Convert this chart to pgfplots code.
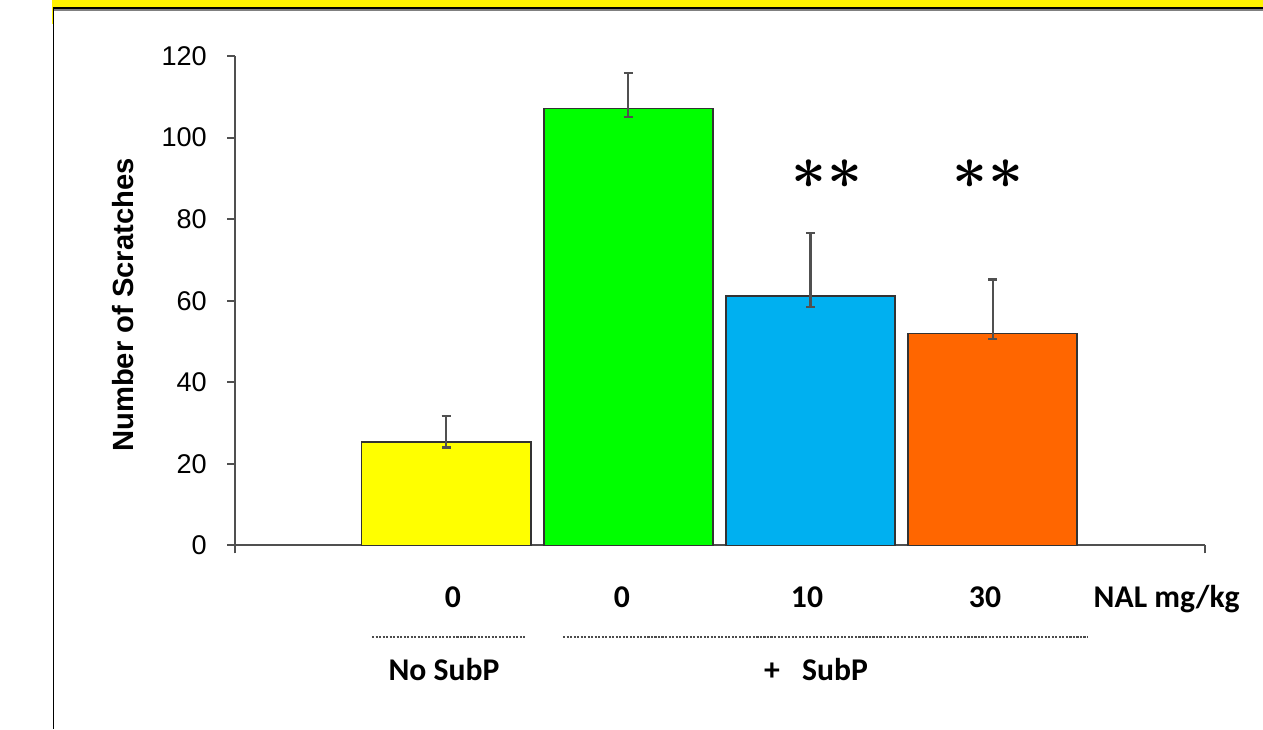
\documentclass[border=0pt]{standalone}
\usepackage{pgfplots}
\pgfplotsset{compat=1.18}
\usepackage{fontspec}
\setmainfont{Liberation Sans}
\newfontfamily\carlito{Carlito}
\definecolor{axgray}{HTML}{505050}
\definecolor{barYellow}{HTML}{FFFF00}
\definecolor{barGreen}{HTML}{00FF00}
\definecolor{barBlue}{HTML}{00B0F0}
\definecolor{barOrange}{HTML}{FF6600}
\newcommand\starstar{\mbox{\fontsize{16}{17}\selectfont\boldmath$\ast\kern0.02cm\ast$}}
\begin{document}
\begin{tikzpicture}
\begin{scope}[x=0.01cm,y=-0.01cm]
\path[use as bounding box, fill=white] (0,0) rectangle (1263,729);
\fill[yellow] (52,0) rectangle (1263,8);
\fill[yellow] (52,0) rectangle (54,24);
\draw[black, line width=0.6pt] (53,8.5) -- (1263,8.5);
\draw[gray, line width=0.3pt] (54,10) -- (1263,10);
\draw[black, line width=0.5pt] (53.5,8) -- (53.5,729);
\end{scope}

\begin{axis}[
  at={(2.35cm,-5.45cm)}, anchor=south west,
  scale only axis, width=9.69cm, height=4.89cm,
  xmin=0, xmax=969, ymin=0, ymax=120,
  axis x line=bottom, axis y line=left,
  axis line style={-, draw=axgray, line width=0.6pt},
  tick align=outside, major tick length=0.08cm,
  tick style={draw=axgray, line width=0.6pt},
  xtick={0,969}, xticklabels={{},{}},
  ytick={0,20,...,120},
  yticklabel style={font=\fontsize{7.7}{9}\selectfont, xshift=-0.08cm},
  /pgf/number format/assume math mode=true,
  clip=false,
  error bars/error bar style={draw=axgray, line width=0.6pt},
  error bars/error mark options={rotate=90, mark size=1.3pt, line width=0.6pt, draw=axgray},
]
\addplot[ybar, bar width=169, bar shift=0pt, fill=barYellow, draw=black!80, line width=0.4pt,
  error bars/.cd, y dir=both, y explicit]
  coordinates {(211,25.3) += (0,6.4) -= (0,1.3)};
\addplot[ybar, bar width=169, bar shift=0pt, fill=barGreen, draw=black!80, line width=0.4pt,
  error bars/.cd, y dir=both, y explicit]
  coordinates {(393,107.2) += (0,8.6) -= (0,2.1)};
\addplot[ybar, bar width=169, bar shift=0pt, fill=barBlue, draw=black!80, line width=0.4pt,
  error bars/.cd, y dir=both, y explicit]
  coordinates {(575,61.2) += (0,15.4) -= (0,2.7)};
\addplot[ybar, bar width=169, bar shift=0pt, fill=barOrange, draw=black!80, line width=0.4pt,
  error bars/.cd, y dir=both, y explicit]
  coordinates {(757,51.9) += (0,13.3) -= (0,1.2)};
\end{axis}

\begin{scope}[x=0.01cm,y=-0.01cm]
\node[inner sep=0pt] at (827,174) {\starstar};
\node[inner sep=0pt] at (988,174) {\starstar};
\tikzset{cat/.style={font=\carlito\bfseries\fontsize{9}{10}\selectfont, inner sep=0pt, anchor=base}}
\node[cat] at (453,607) {0};
\node[cat] at (622,607) {0};
\node[cat] at (807,607) {10};
\node[cat] at (985,607) {30};
\node[cat, anchor=base west] at (1093,607) {NAL mg/kg};
\draw[black!70, line width=0.3pt, dash pattern=on 0.6pt off 0.4pt] (372,637) -- (526,637);
\draw[black!70, line width=0.3pt, dash pattern=on 0.6pt off 0.4pt] (563,637) -- (1088,637);
\node[cat] at (444,680) {No SubP};
\node[cat] at (772,680) {+};
\node[cat] at (835,680) {SubP};
\node[font=\bfseries\fontsize{8.3}{10}\selectfont, inner sep=0pt, rotate=90] at (123,305) {Number of Scratches};
\end{scope}
\end{tikzpicture}
\end{document}
